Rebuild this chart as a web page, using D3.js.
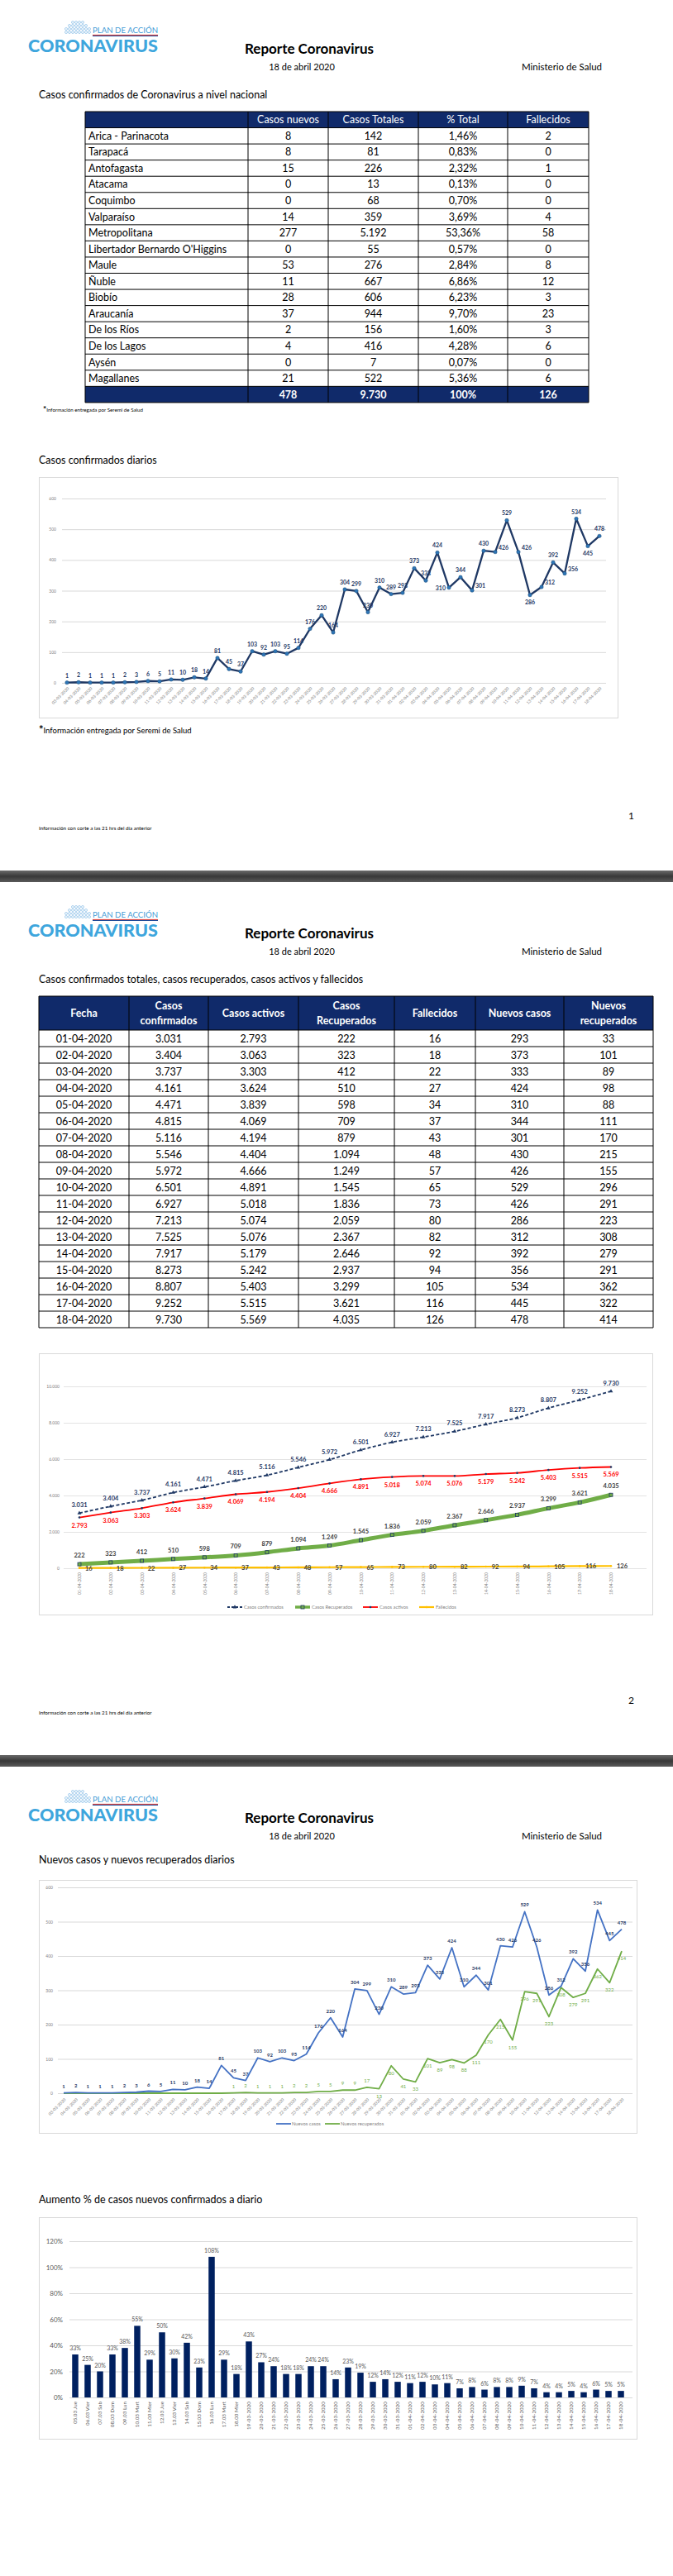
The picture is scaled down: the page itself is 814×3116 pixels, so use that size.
<!DOCTYPE html>
<html lang="es"><head><meta charset="utf-8"><title>Reporte Coronavirus</title>
<script src="https://cdn.jsdelivr.net/npm/d3@7/dist/d3.min.js"></script>
<style>
html,body{margin:0;padding:0;background:#fff}
svg{display:block}
text{font-family:Lato,"Open Sans","DejaVu Sans",sans-serif}
</style></head><body>
<svg id="page" width="814" height="3116" viewBox="0 0 814 3116"></svg>
<script>
// ---------------- DATA ----------------
const regiones=["Arica - Parinacota","Tarapacá","Antofagasta","Atacama","Coquimbo","Valparaíso","Metropolitana","Libertador Bernardo O'Higgins","Maule","Ñuble","Biobío","Araucanía","De los Ríos","De los Lagos","Aysén","Magallanes"];
const casosNuevosRegion=[8,8,15,0,0,14,277,0,53,11,28,37,2,4,0,21];
const casosTotalesRegion=[142,81,226,13,68,359,5192,55,276,667,606,944,156,416,7,522];
const pctTotalRegion=[1.46,0.83,2.32,0.13,0.70,3.69,53.36,0.57,2.84,6.86,6.23,9.70,1.60,4.28,0.07,5.36];
const fallecidosRegion=[2,0,1,0,0,4,58,0,8,12,3,23,3,6,0,6];
const encabezadoRegion=["","Casos nuevos","Casos Totales","% Total","Fallecidos"];

const fechasDiarias=["03-03-2020","04-03-2020","05-03-2020","06-03-2020","07-03-2020","08-03-2020","09-03-2020","10-03-2020","11-03-2020","12-03-2020","13-03-2020","14-03-2020","15-03-2020","16-03-2020","17-03-2020","18-03-2020","19-03-2020","20-03-2020","21-03-2020","22-03-2020","23-03-2020","24-03-2020","25-03-2020","26-03-2020","27-03-2020","28-03-2020","29-03-2020","30-03-2020","31-03-2020","01-04-2020","02-04-2020","03-04-2020","04-04-2020","05-04-2020","06-04-2020","07-04-2020","08-04-2020","09-04-2020","10-04-2020","11-04-2020","12-04-2020","13-04-2020","14-04-2020","15-04-2020","16-04-2020","17-04-2020","18-04-2020"];
const nuevosCasosDiarios=[1,2,1,1,1,2,3,6,5,11,10,18,14,81,45,37,103,92,103,95,114,176,220,164,304,299,230,310,289,293,373,333,424,310,344,301,430,426,529,426,286,312,392,356,534,445,478];
const nuevosRecuperadosDiarios=[0,0,0,0,0,0,0,0,0,0,0,0,0,0,1,2,1,1,1,2,2,5,5,9,9,17,13,80,41,33,101,89,98,88,111,170,215,155,296,291,223,308,279,291,362,322,414];
const ticksDiarios=[0,100,200,300,400,500,600];

const fechasTabla=["01-04-2020","02-04-2020","03-04-2020","04-04-2020","05-04-2020","06-04-2020","07-04-2020","08-04-2020","09-04-2020","10-04-2020","11-04-2020","12-04-2020","13-04-2020","14-04-2020","15-04-2020","16-04-2020","17-04-2020","18-04-2020"];
const casosConfirmados=[3031,3404,3737,4161,4471,4815,5116,5546,5972,6501,6927,7213,7525,7917,8273,8807,9252,9730];
const casosActivos=[2793,3063,3303,3624,3839,4069,4194,4404,4666,4891,5018,5074,5076,5179,5242,5403,5515,5569];
const casosRecuperados=[222,323,412,510,598,709,879,1094,1249,1545,1836,2059,2367,2646,2937,3299,3621,4035];
const fallecidosTabla=[16,18,22,27,34,37,43,48,57,65,73,80,82,92,94,105,116,126];
const nuevosCasosTabla=[293,373,333,424,310,344,301,430,426,529,426,286,312,392,356,534,445,478];
const nuevosRecuperadosTabla=[33,101,89,98,88,111,170,215,155,296,291,223,308,279,291,362,322,414];
const encabezadoTabla=[["Fecha"],["Casos","confirmados"],["Casos activos"],["Casos","Recuperados"],["Fallecidos"],["Nuevos casos"],["Nuevos","recuperados"]];
const ticksAcumulados=[0,2000,4000,6000,8000,10000];

const fechasAumento=["05.03 Jue","06.03 Vier","07.03 Sab","08.03 Dom","09.03 Lun","10.03 Mart","11.03 Mier","12.03 Jue","13.03 Vier","14.03 Sab","15.03 Dom","16.03 Lun","17.03 Mart","18.03 Mier","19-03-2020","20-03-2020","21-03-2020","22-03-2020","23-03-2020","24-03-2020","25-03-2020","26-03-2020","27-03-2020","28-03-2020","29-03-2020","30-03-2020","31-03-2020","01-04-2020","02-04-2020","03-04-2020","04-04-2020","05-04-2020","06-04-2020","07-04-2020","08-04-2020","09-04-2020","10-04-2020","11-04-2020","12-04-2020","13-04-2020","14-04-2020","15-04-2020","16-04-2020","17-04-2020","18-04-2020"];
const aumentoPct=[33,25,20,33,38,55,29,50,30,42,23,108,29,18,43,27,24,18,18,24,24,14,23,19,12,14,12,11,12,10,11,7,8,6,8,8,9,7,4,4,5,4,6,5,5];
const ticksPct=[0,20,40,60,80,100,120];

// ---------------- HELPERS ----------------
const NAVY="#102a6a";
const loc=d3.formatLocale({decimal:",",thousands:".",grouping:[3],currency:["",""]});
const fmt=loc.format(",d");
const pct2=v=>loc.format(".2f")(v)+"%";
const svg=d3.select("#page");
svg.append("rect").attr("width",814).attr("height",3116).attr("fill","#fff");
const PAGE=[0,1070,2140];

// page separator bands
const defs=svg.append("defs");
const gr=defs.append("linearGradient").attr("id","band").attr("x1",0).attr("y1",0).attr("x2",0).attr("y2",1);
gr.append("stop").attr("offset","0").attr("stop-color","#6a6a6a");
gr.append("stop").attr("offset","0.5").attr("stop-color","#383838");
gr.append("stop").attr("offset","1").attr("stop-color","#5a5a5a");
[1,2].forEach(k=>svg.append("rect").attr("x",0).attr("y",PAGE[k]-17).attr("width",814).attr("height",14).attr("fill","url(#band)"));

function txt(g,x,y,s,size,opts={}){
  const t=g.append("text").attr("x",x).attr("y",y).attr("font-size",size).text(s);
  if(opts.anchor)t.attr("text-anchor",opts.anchor);
  if(opts.weight)t.attr("font-weight",opts.weight);
  t.attr("fill",opts.fill||"#000");
  return t;
}

function header(oy){
  const g=svg.append("g").attr("transform",`translate(0,${oy})`);
  const ic=g.append("g").attr("fill","none").attr("stroke","#86bde6").attr("stroke-width",0.7);
  for(let r=0;r<4;r++){
    const n=r===0?4:(r===1?6:8);
    const x0=94-(n-1)*2;
    for(let c=0;c<n;c++) ic.append("circle").attr("cx",x0+c*4).attr("cy",27+r*4).attr("r",1.5);
  }
  txt(g,112,40,"PLAN DE ACCIÓN",10,{fill:"#3f9bd6"}).attr("textLength",79).attr("lengthAdjust","spacingAndGlyphs");
  g.append("line").attr("x1",112).attr("x2",191).attr("y1",42.4).attr("y2",42.4).attr("stroke","#d8312a").attr("stroke-width",1);
  g.append("line").attr("x1",112).attr("x2",191).attr("y1",43.5).attr("y2",43.5).attr("stroke","#1b4b9b").attr("stroke-width",1);
  txt(g,34,63,"CORONAVIRUS",21,{fill:"#3ea6dd",weight:900}).attr("textLength",157).attr("lengthAdjust","spacingAndGlyphs");
  txt(g,374,65,"Reporte Coronavirus",17,{anchor:"middle",weight:700});
  txt(g,365,85,"18 de abril 2020",11,{anchor:"middle"});
  txt(g,631,85,"Ministerio de Salud",11.5);
  return g;
}
function footer(oy,num){
  const g=svg.append("g").attr("transform",`translate(0,${oy})`);
  txt(g,47,1004,"Información con corte a las 21 hrs del día anterior",6.3);
  if(num) txt(g,760,991,num,12);
}

// ================= PAGE 1 =================
header(PAGE[0]);
txt(svg,47,119,"Casos confirmados de Coronavirus a nivel nacional",12.5);
{
  const cx=[103,300,397,506,614,712], top=135, rh=19.55, n=regiones.length;
  const g=svg.append("g");
  g.append("rect").attr("x",cx[0]).attr("y",top).attr("width",cx[5]-cx[0]).attr("height",rh).attr("fill",NAVY);
  g.append("rect").attr("x",cx[0]).attr("y",top+(n+1)*rh).attr("width",cx[5]-cx[0]).attr("height",rh).attr("fill",NAVY);
  const mid=j=>(cx[j]+cx[j+1])/2;
  encabezadoRegion.forEach((h,j)=>txt(g,mid(j),top+rh/2+4.5,h,12.5,{anchor:"middle",fill:"#fff"}));
  regiones.forEach((r,i)=>{
    const yb=top+(i+1)*rh+rh/2+4.5;
    txt(g,cx[0]+4,yb,r,12.5);
    txt(g,mid(1),yb,fmt(casosNuevosRegion[i]),12.5,{anchor:"middle"});
    txt(g,mid(2),yb,fmt(casosTotalesRegion[i]),12.5,{anchor:"middle"});
    txt(g,mid(3),yb,pct2(pctTotalRegion[i]),12.5,{anchor:"middle"});
    txt(g,mid(4),yb,fmt(fallecidosRegion[i]),12.5,{anchor:"middle"});
  });
  const yt=top+(n+1)*rh+rh/2+4.5;
  txt(g,mid(1),yt,fmt(d3.sum(casosNuevosRegion)),12.5,{anchor:"middle",fill:"#fff",weight:700});
  txt(g,mid(2),yt,fmt(d3.sum(casosTotalesRegion)),12.5,{anchor:"middle",fill:"#fff",weight:700});
  txt(g,mid(3),yt,"100%",12.5,{anchor:"middle",fill:"#fff",weight:700});
  txt(g,mid(4),yt,fmt(d3.sum(fallecidosRegion)),12.5,{anchor:"middle",fill:"#fff",weight:700});
  const lines=g.append("g").attr("stroke","#000").attr("stroke-width",1);
  for(let i=0;i<=n+2;i++) lines.append("line").attr("x1",cx[0]).attr("x2",cx[5]).attr("y1",top+i*rh).attr("y2",top+i*rh);
  cx.forEach(x=>lines.append("line").attr("x1",x).attr("x2",x).attr("y1",top).attr("y2",top+(n+2)*rh));
  const f=txt(g,52,498,"",6.2);
  f.append("tspan").attr("font-size",10).attr("font-weight",700).text("*");
  f.append("tspan").text("Información entregada por Seremi de Salud");
}

// Chart 1
txt(svg,47,561,"Casos confirmados diarios",12.5);
{
  const g=svg.append("g");
  g.append("rect").attr("x",47.5).attr("y",577.5).attr("width",700).attr("height",291).attr("fill","#fff").attr("stroke","#d9d9d9");
  const x=d3.scalePoint().domain(fechasDiarias).range([81,725]);
  const y=d3.scaleLinear().domain([0,600]).range([826,603]);
  g.append("g").attr("transform","translate(75,0)")
   .call(d3.axisLeft(y).tickValues(ticksDiarios).tickSize(-658).tickFormat(d=>d))
   .call(s=>{s.select(".domain").remove();s.attr("font-family",null);
     s.selectAll("line").attr("stroke","#d9d9d9");
     s.selectAll("text").attr("font-size",5).attr("fill","#808080").attr("x",-7);});
  g.append("g").attr("transform","translate(0,826)")
   .call(d3.axisBottom(x).tickSize(0).tickPadding(0))
   .call(s=>{s.select(".domain").remove();s.attr("font-family",null);
     s.selectAll("text").attr("font-size",5).attr("fill","#808080").attr("text-anchor","end")
      .attr("y",0).attr("dy","0.35em").attr("transform","translate(1,6) rotate(-45)");});
  const line=d3.line().x((d,i)=>x(fechasDiarias[i])).y(d=>y(d));
  g.append("path").datum(nuevosCasosDiarios).attr("d",line).attr("fill","none").attr("stroke","#1f3864").attr("stroke-width",2.3).attr("stroke-linejoin","round");
  g.selectAll("circle.m").data(nuevosCasosDiarios).join("circle").attr("class","m")
   .attr("cx",(d,i)=>x(fechasDiarias[i])).attr("cy",d=>y(d)).attr("r",2.2)
   .attr("fill","#2e75b6").attr("stroke","#1f4e79").attr("stroke-width",0.5);
  const place={33:"l",35:"r",37:"r",39:"r",40:"b",41:"r",43:"r",45:"b"};
  nuevosCasosDiarios.forEach((v,i)=>{
    const px=x(fechasDiarias[i]),py=y(v),p=place[i]||"a";
    let tx=px,ty=py-6,an="middle";
    if(p==="r"){tx=px+4;ty=py-3;an="start";}
    if(p==="l"){tx=px-4;ty=py+3;an="end";}
    if(p==="b"){tx=px;ty=py+11;}
    txt(g,tx,ty,fmt(v),7,{anchor:an,weight:700,fill:"#1f3864"});
  });
  const f=txt(svg,47,887,"",9.5);
  f.append("tspan").attr("font-size",13).attr("font-weight",700).text("*");
  f.append("tspan").text("Información entregada por Seremi de Salud");
}
footer(PAGE[0],"1");

// ================= PAGE 2 =================
header(PAGE[1]);
txt(svg,47,1189,"Casos confirmados totales, casos recuperados, casos activos y fallecidos",12.5);
{
  const cx=[47,156,252,361,477,575,682,790], top=1205, hh=41, rh=20, n=fechasTabla.length;
  const g=svg.append("g");
  g.append("rect").attr("x",cx[0]).attr("y",top).attr("width",cx[7]-cx[0]).attr("height",hh).attr("fill",NAVY);
  const mid=j=>(cx[j]+cx[j+1])/2;
  encabezadoTabla.forEach((h,j)=>{
    if(h.length===1) txt(g,mid(j),top+hh/2+4.5,h[0],12.5,{anchor:"middle",fill:"#fff",weight:700});
    else { txt(g,mid(j),top+16,h[0],12.5,{anchor:"middle",fill:"#fff",weight:700});
           txt(g,mid(j),top+34,h[1],12.5,{anchor:"middle",fill:"#fff",weight:700}); }
  });
  const cols=[casosConfirmados,casosActivos,casosRecuperados,fallecidosTabla,nuevosCasosTabla,nuevosRecuperadosTabla];
  fechasTabla.forEach((d,i)=>{
    const yb=top+hh+i*rh+rh/2+4.5;
    txt(g,mid(0),yb,d,12.5,{anchor:"middle"});
    cols.forEach((c,j)=>txt(g,mid(j+1),yb,fmt(c[i]),12.5,{anchor:"middle"}));
  });
  const lines=g.append("g").attr("stroke","#000").attr("stroke-width",1);
  lines.append("line").attr("x1",cx[0]).attr("x2",cx[7]).attr("y1",top).attr("y2",top);
  for(let i=0;i<=n;i++) lines.append("line").attr("x1",cx[0]).attr("x2",cx[7]).attr("y1",top+hh+i*rh).attr("y2",top+hh+i*rh);
  cx.forEach(x=>lines.append("line").attr("x1",x).attr("x2",x).attr("y1",top).attr("y2",top+hh+n*rh));
}
// Chart 2
{
  const g=svg.append("g");
  g.append("rect").attr("x",47.5).attr("y",1637.5).attr("width",742).attr("height",316).attr("fill","#fff").attr("stroke","#d9d9d9");
  const x=d3.scalePoint().domain(fechasTabla).range([96,739]);
  const y=d3.scaleLinear().domain([0,10000]).range([1897,1677]);
  g.append("g").attr("transform","translate(77,0)")
   .call(d3.axisLeft(y).tickValues(ticksAcumulados).tickSize(-705).tickFormat(fmt))
   .call(s=>{s.select(".domain").remove();s.attr("font-family",null);
     s.selectAll("line").attr("stroke","#e3e3e3");
     s.selectAll("text").attr("font-size",5).attr("fill","#808080").attr("x",-5);});
  g.append("g").attr("transform","translate(0,1902)")
   .call(d3.axisBottom(x).tickSize(0).tickPadding(0))
   .call(s=>{s.select(".domain").remove();s.attr("font-family",null);
     s.selectAll("text").attr("font-size",5).attr("fill","#808080").attr("text-anchor","end")
      .attr("y",0).attr("dy","0.35em").attr("transform","rotate(-90)");});
  const series=[
    {name:"Fallecidos",v:fallecidosTabla,c:"#ffc000",w:2.2,dash:null,mk:"dot",mc:"#ffc000",lc:"#404040",dx:7,dy:3,an:"start"},
    {name:"Casos Recuperados",v:casosRecuperados,c:"#70ad47",w:5,dash:null,mk:"sq",mc:"#1f3864",lc:"#404040",dx:0,dy:-8,an:"middle"},
    {name:"Casos activos",v:casosActivos,c:"#ff0000",w:1.8,dash:null,mk:"dot",mc:"#1f3864",lc:"#ff0000",dx:0,dy:12,an:"middle"},
    {name:"Casos confirmados",v:casosConfirmados,c:"#1f3864",w:1.8,dash:"4,2.5",mk:"tri",mc:"#1f3864",lc:"#1f3864",dx:0,dy:-7,an:"middle"}
  ];
  const marker=(sel,mk,mc)=>{
    if(mk==="sq") sel.append("rect").attr("x",-2).attr("y",-2).attr("width",4).attr("height",4).attr("fill","#70ad47").attr("stroke",mc).attr("stroke-width",0.8);
    else if(mk==="tri") sel.append("path").attr("d",d3.symbol(d3.symbolTriangle,10)()).attr("fill",mc);
    else sel.append("circle").attr("r",1.3).attr("fill",mc);
  };
  series.forEach(s=>{
    const line=d3.line().x((d,i)=>x(fechasTabla[i])).y(d=>y(d)).curve(d3.curveMonotoneX);
    const p=g.append("path").datum(s.v).attr("d",line).attr("fill","none").attr("stroke",s.c).attr("stroke-width",s.w).attr("stroke-linejoin","round");
    if(s.dash)p.attr("stroke-dasharray",s.dash);
    s.v.forEach((v,i)=>{ const m=g.append("g").attr("transform",`translate(${x(fechasTabla[i])},${y(v)})`); marker(m,s.mk,s.mc); });
  });
  series.forEach(s=>s.v.forEach((v,i)=>txt(g,x(fechasTabla[i])+s.dx,y(v)+s.dy,fmt(v),7.5,{anchor:s.an,weight:700,fill:s.lc})));
  // legend
  const order=[3,1,2,0], lx=[275,357,439,507];
  order.forEach((k,j)=>{
    const s=series[k], lg=g.append("g").attr("transform",`translate(${lx[j]},1944)`);
    const l=lg.append("line").attr("x1",0).attr("x2",18).attr("y1",0).attr("y2",0).attr("stroke",s.c).attr("stroke-width",Math.min(s.w,3.5));
    if(s.dash)l.attr("stroke-dasharray","3,2");
    marker(lg.append("g").attr("transform","translate(9,0)"),s.mk,s.mc);
    txt(lg,20,2,s.name,5.8,{fill:"#7f7f7f"});
  });
}
footer(PAGE[1],"2");

// ================= PAGE 3 =================
header(PAGE[2]);
txt(svg,47,2254,"Nuevos casos y nuevos recuperados diarios",12.5);
{
  const g=svg.append("g");
  g.append("rect").attr("x",47.5).attr("y",2274.5).attr("width",723).attr("height",306).attr("fill","#fff").attr("stroke","#d9d9d9");
  const x=d3.scalePoint().domain(fechasDiarias).range([77,752]);
  const y=d3.scaleLinear().domain([0,600]).range([2532,2283]);
  g.append("g").attr("transform","translate(70,0)")
   .call(d3.axisLeft(y).tickValues(ticksDiarios).tickSize(-695).tickFormat(d=>d))
   .call(s=>{s.select(".domain").remove();s.attr("font-family",null);
     s.selectAll("line").attr("stroke","#d9d9d9");
     s.selectAll("text").attr("font-size",5).attr("fill","#808080").attr("x",-6);});
  g.append("g").attr("transform","translate(0,2534)")
   .call(d3.axisBottom(x).tickSize(0).tickPadding(0))
   .call(s=>{s.select(".domain").remove();s.attr("font-family",null);
     s.selectAll("text").attr("font-size",5).attr("fill","#808080").attr("text-anchor","end")
      .attr("y",0).attr("dy","0.35em").attr("transform","translate(1,5) rotate(-45)");});
  const line=d3.line().x((d,i)=>x(fechasDiarias[i])).y(d=>y(d));
  g.append("path").datum(nuevosRecuperadosDiarios).attr("d",line).attr("fill","none").attr("stroke","#70ad47").attr("stroke-width",1.8).attr("stroke-linejoin","round");
  g.append("path").datum(nuevosCasosDiarios).attr("d",line).attr("fill","none").attr("stroke","#4472c4").attr("stroke-width",1.8).attr("stroke-linejoin","round");
  nuevosCasosDiarios.forEach((v,i)=>txt(g,x(fechasDiarias[i]),y(v)-6,fmt(v),6,{anchor:"middle",weight:700,fill:"#1f3864"}));
  nuevosRecuperadosDiarios.forEach((v,i)=>{ if(v>0){
    const above=i<=25;
    txt(g,x(fechasDiarias[i]),y(v)+(above?-6:11),fmt(v),6,{anchor:"middle",fill:"#70ad47"});
  }});
  const items=[{n:"Nuevos casos",c:"#4472c4",x:334},{n:"Nuevos recuperados",c:"#70ad47",x:393}];
  items.forEach(it=>{
    g.append("line").attr("x1",it.x).attr("x2",it.x+18).attr("y1",2569).attr("y2",2569).attr("stroke",it.c).attr("stroke-width",1.8);
    txt(g,it.x+19,2571,it.n,5.8,{fill:"#7f7f7f"});
  });
}
// Bar chart
txt(svg,47,2665,"Aumento % de casos nuevos confirmados a diario",12.5);
{
  const g=svg.append("g");
  g.append("rect").attr("x",47.5).attr("y",2682.5).attr("width",723).attr("height",268).attr("fill","#fff").attr("stroke","#d9d9d9");
  const x=d3.scaleBand().domain(fechasAumento).range([83.5,758.5]).paddingInner(0.5).paddingOuter(0.25);
  const y=d3.scaleLinear().domain([0,120]).range([2900,2711]);
  g.append("g").attr("transform","translate(84,0)")
   .call(d3.axisLeft(y).tickValues(ticksPct).tickSize(-681).tickFormat(d=>d+"%"))
   .call(s=>{s.select(".domain").remove();s.attr("font-family",null);
     s.selectAll("line").attr("stroke","#d9d9d9");
     s.selectAll("text").attr("font-size",8).attr("fill","#595959").attr("x",-8);});
  g.selectAll("rect.b").data(aumentoPct).join("rect").attr("class","b")
   .attr("x",(d,i)=>x(fechasAumento[i])).attr("width",x.bandwidth())
   .attr("y",d=>y(d)).attr("height",d=>y(0)-y(d)).attr("fill","#002060");
  aumentoPct.forEach((v,i)=>txt(g,x(fechasAumento[i])+x.bandwidth()/2,y(v)-5,v+"%",7,{anchor:"middle",fill:"#595959"}));
  g.append("g").attr("transform","translate(0,2905)")
   .call(d3.axisBottom(x).tickSize(0).tickPadding(0))
   .call(s=>{s.select(".domain").remove();s.attr("font-family",null);
     s.selectAll("text").attr("font-size",6.3).attr("fill","#595959").attr("text-anchor","end")
      .attr("y",0).attr("dy","0.35em").attr("transform","rotate(-90)");});
}
</script>
</body></html>
